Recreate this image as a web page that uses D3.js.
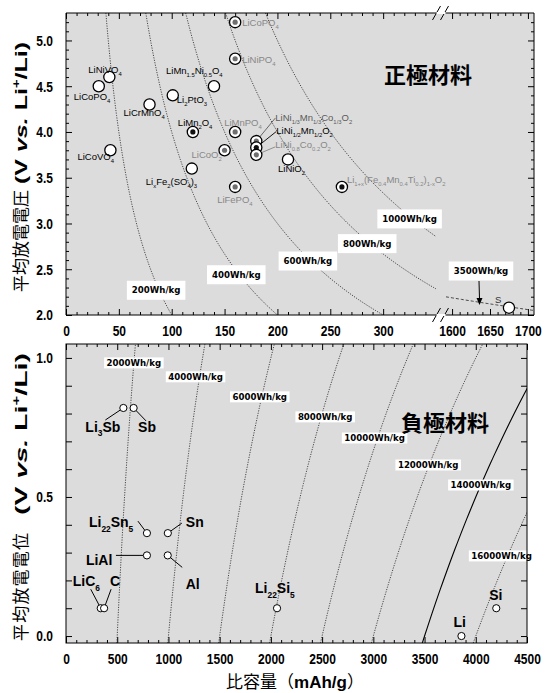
<!DOCTYPE html>
<html>
<head>
<meta charset="utf-8">
<script src="https://cdn.jsdelivr.net/npm/d3@7"></script>
<style>
  body { margin: 0; background: #fff; }
  svg { display: block; }
</style>
</head>
<body>
<svg id="chart" width="549" height="693"></svg>
<script>
// ---------- cathode materials (upper panel) ----------
const cathodeNames = [
  "LiCoPO_{4}", "LiNiPO_{4}", "LiNiVO_{4}", "LiCoPO_{4}", "LiMn_{1.5}Ni_{0.5}O_{4}",
  "Li_{2}PtO_{3}", "LiCrMnO_{4}", "LiMn_{2}O_{4}", "LiMnPO_{4}",
  "LiNi_{1/3}Mn_{1/3}Co_{1/3}O_{2}", "LiNi_{1/2}Mn_{1/2}O_{2}", "LiNi_{0.8}Co_{0.2}O_{2}",
  "LiCoVO_{4}", "LiCoO_{2}", "LiNiO_{2}", "Li_{x}Fe_{2}(SO_{4})_{3}", "LiFePO_{4}",
  "Li_{1+x}(Fe_{0.4}Mn_{0.4}Ti_{0.2})_{1-x}O_{2}"
];
const cathodeCapacity = [160, 160, 41, 31, 140, 101, 79, 120, 160, 180, 180, 180, 42, 150, 210, 119, 160, 261];
const cathodeVoltage  = [5.2, 4.8, 4.6, 4.5, 4.5, 4.4, 4.3, 4.0, 4.0, 3.9, 3.83, 3.75, 3.8, 3.8, 3.7, 3.6, 3.4, 3.4];
const cathodeKind     = ["gray", "gray", "open", "open", "open", "open", "open", "black", "gray",
                         "gray", "black", "gray", "open", "gray", "open", "open", "gray", "black"];
const sulfurNames    = ["S"];
const sulfurCapacity = [1675];
const sulfurVoltage  = [2.08];
const cathodeEnergies = [200, 400, 600, 800, 1000];
const sulfurEnergies  = [3500];

// ---------- anode materials (lower panel) ----------
const anodeNames    = ["Li_{3}Sb", "Sb", "Li_{22}Sn_{5}", "Sn", "LiAl", "Al", "LiC_{6}", "C", "Li_{22}Si_{5}", "Si", "Li"];
const anodeCapacity = [560, 660, 790, 994, 790, 993, 339, 372, 2060, 4200, 3860];
const anodeVoltage  = [0.82, 0.82, 0.37, 0.37, 0.29, 0.29, 0.1, 0.1, 0.1, 0.1, 0.0];
const anodeEnergies = [2000, 4000, 6000, 8000, 10000, 12000, 14000, 16000];
const counterVoltage = 4.0;   // cathode potential assumed for the anode energy lines

// ---------- tick values ----------
const topXTicksLeft  = [0, 50, 100, 150, 200, 250, 300];
const topXTicksRight = [1600, 1650, 1700];
const topYTicks      = [2.0, 2.5, 3.0, 3.5, 4.0, 4.5, 5.0];
const botXTicks      = [0, 500, 1000, 1500, 2000, 2500, 3000, 3500, 4000, 4500];
const botYTicks      = [0.0, 0.5, 1.0];

// ---------- layout ----------
const BG = "#dcdcdc", GRAY = "#878787";
const SANS = "'Liberation Sans',Arial,sans-serif";
const CJK = "'Noto Sans CJK JP','Noto Sans CJK SC',sans-serif";
const BOXFONT = "'DejaVu Sans',Verdana,sans-serif";

const svg = d3.select("#chart");

const xL = d3.scaleLinear([0, 350], [66, 436]);
const xR = d3.scaleLinear([1592, 1708], [446, 534]);
const yT = d3.scaleLinear([2.0, 5.3], [315, 13]);
const xB = d3.scaleLinear([0, 4500], [66, 527]);
const yB = d3.scaleLinear([-0.025, 1.05], [643, 344]);

// draws "Li_{2}O" style markup with sub/superscripts into a text element
function rich(textSel, markup, size, opts = {}) {
  const re = /([_^])\{([^}]*)\}|([^_^]+)/g;
  let m, cur = 0;
  while ((m = re.exec(markup))) {
    let t, k = 0;
    if (m[3] !== undefined) { t = m[3]; } else { t = m[2]; k = m[1] === "_" ? 1 : -1; }
    const shift = k === 1 ? size * 0.32 : k === -1 ? -size * 0.42 : 0;
    textSel.append("tspan").attr("dy", shift - cur)
      .attr("font-size", k ? size * (opts.subScale || 0.62) : size).text(t);
    cur = shift;
  }
  return textSel;
}

// ---------- clip paths ----------
const defs = svg.append("defs");
defs.append("clipPath").attr("id", "clipTL").append("rect")
  .attr("x", 66).attr("y", 13).attr("width", 370).attr("height", 302);
defs.append("clipPath").attr("id", "clipTR").append("rect")
  .attr("x", 446).attr("y", 13).attr("width", 88).attr("height", 302);
defs.append("clipPath").attr("id", "clipB").append("rect")
  .attr("x", 66).attr("y", 344).attr("width", 461).attr("height", 299);

// ---------- backgrounds ----------
svg.append("rect").attr("x", 66).attr("y", 13).attr("width", 468).attr("height", 302).attr("fill", BG);
svg.append("rect").attr("x", 66).attr("y", 344).attr("width", 461).attr("height", 299).attr("fill", BG);

// ---------- axes helpers ----------
function axisG(axis, tx, ty, labels) {
  const g = svg.append("g").attr("transform", `translate(${tx},${ty})`).call(axis);
  g.select(".domain").remove();
  g.selectAll("line").attr("stroke", "#000").attr("stroke-width", 1);
  if (!labels) { g.selectAll("text").remove(); return g; }
  // narrow bold tick numerals
  g.selectAll("text").each(function () {
    const t = d3.select(this);
    const x0 = +(t.attr("x") || 0);
    t.attr("x", 0).attr("transform", `translate(${x0},0) scale(0.8,1)`);
  }).attr("font-family", SANS).attr("font-size", 15).attr("font-weight", "bold").attr("fill", "#000");
  return g;
}
const f1 = d3.format(".1f"), fd = d3.format("d");
const minorTop = d3.range(10, 350, 10).filter(v => v % 50);
const minorTopR = d3.range(1600, 1708, 10).filter(v => v % 50);
const minorTopY = d3.range(2.1, 5.3, 0.1).filter(v => Math.round(v * 10) % 5);
const minorBotX = d3.range(100, 4500, 100).filter(v => v % 500);

// upper panel ticks
axisG(d3.axisBottom(xL).tickValues(topXTicksLeft).tickSize(-6).tickPadding(10).tickFormat(fd), 0, 315, true);
axisG(d3.axisBottom(xL).tickValues(minorTop).tickSize(-3), 0, 315, false);
axisG(d3.axisBottom(xR).tickValues(topXTicksRight).tickSize(-6).tickPadding(10).tickFormat(fd), 0, 315, true);
axisG(d3.axisBottom(xR).tickValues(minorTopR).tickSize(-3), 0, 315, false);
axisG(d3.axisTop(xL).tickValues(topXTicksLeft).tickSize(-6), 0, 13, false);
axisG(d3.axisTop(xL).tickValues(minorTop).tickSize(-3), 0, 13, false);
axisG(d3.axisTop(xR).tickValues(topXTicksRight).tickSize(-6), 0, 13, false);
axisG(d3.axisTop(xR).tickValues(minorTopR).tickSize(-3), 0, 13, false);
axisG(d3.axisLeft(yT).tickValues(topYTicks).tickSize(-6).tickPadding(13).tickFormat(f1), 66, 0, true);
axisG(d3.axisLeft(yT).tickValues(minorTopY).tickSize(-3), 66, 0, false);
axisG(d3.axisRight(yT).tickValues(topYTicks).tickSize(-6), 534, 0, false);
axisG(d3.axisRight(yT).tickValues(minorTopY).tickSize(-3), 534, 0, false);

// lower panel ticks
axisG(d3.axisBottom(xB).tickValues(botXTicks).tickSize(-6).tickPadding(10).tickFormat(fd), 0, 643, true);
axisG(d3.axisBottom(xB).tickValues(minorBotX).tickSize(-3), 0, 643, false);
axisG(d3.axisTop(xB).tickValues(botXTicks).tickSize(-6), 0, 344, false);
axisG(d3.axisTop(xB).tickValues(minorBotX).tickSize(-3), 0, 344, false);
axisG(d3.axisLeft(yB).tickValues(d3.range(0, 1.01, 0.1)).tickSize(-6).tickPadding(13)
  .tickFormat(v => botYTicks.some(t => Math.abs(t - v) < 1e-6) ? f1(v) : ""), 66, 0, true);
axisG(d3.axisRight(yB).tickValues(d3.range(0, 1.01, 0.1)).tickSize(-6), 527, 0, false);

// ---------- energy curves ----------
const lineT = d3.line().x(d => d[2] ? xR(d[0]) : xL(d[0])).y(d => yT(d[1]));
const curveG = svg.append("g").attr("fill", "none").attr("stroke", "#222").attr("stroke-width", 0.8);
cathodeEnergies.forEach(E => {
  const c0 = E / 5.3, c1 = Math.min(350, E / 2.0);
  const pts = d3.range(0, 81).map(i => { const c = c0 + (c1 - c0) * i / 80; return [c, E / c, false]; });
  curveG.append("path").attr("clip-path", "url(#clipTL)").attr("d", lineT(pts))
    .attr("stroke-dasharray", "1.2,1.3");
});
sulfurEnergies.forEach(E => {
  const pts = d3.range(0, 41).map(i => { const c = 1592 + 116 * i / 40; return [c, E / c, true]; });
  curveG.append("path").attr("clip-path", "url(#clipTR)").attr("d", lineT(pts))
    .attr("stroke-dasharray", "3,2");
});
const lineB = d3.line().x(d => xB(d[0])).y(d => yB(d[1]));
anodeEnergies.forEach(E => {
  const pts = d3.range(0, 61).map(i => { const v = -0.025 + 1.075 * i / 60; return [E / (counterVoltage - v), v]; });
  const p = curveG.append("path").attr("clip-path", "url(#clipB)").attr("d", lineB(pts));
  if (E === 14000) p.attr("stroke", "#000").attr("stroke-width", 1.1);
  else p.attr("stroke-dasharray", "1.2,1.3");
});

// ---------- energy labels on white boxes ----------
function energyLabel(cx, cy, text, padX, h) {
  const g = svg.append("g");
  const t = g.append("text").attr("x", cx).attr("y", cy).attr("text-anchor", "middle")
    .attr("dominant-baseline", "central").attr("font-family", BOXFONT).attr("font-weight", "bold")
    .attr("font-size", 8.6).text(text);
  const bb = t.node().getBBox();
  g.insert("rect", "text").attr("x", bb.x - padX).attr("y", cy - h / 2)
    .attr("width", bb.width + 2 * padX).attr("height", h).attr("fill", "#fff");
}
const cathodeLabelV = [2.27, 2.44, 2.59, 2.78, 3.05];
cathodeEnergies.forEach((E, i) => {
  const v = cathodeLabelV[i];
  energyLabel(xL(E / v) - 3, yT(v), E + "Wh/kg", 5, 19);
});
energyLabel(481, 271, sulfurEnergies[0] + "Wh/kg", 5, 19);
svg.append("line").attr("x1", 479).attr("y1", 281).attr("x2", 479.5).attr("y2", 299)
  .attr("stroke", "#000").attr("stroke-width", 1);
svg.append("path").attr("d", "M476.5,298 L482.5,298 L479.5,305 Z").attr("fill", "#000");

const anodeLabelV = [0.982, 0.932, 0.86, 0.788, 0.712, 0.615, 0.543, 0.288];
const anodeLabelDx = [0, -4, -2, 4, -3, -1, 0, -6];
anodeEnergies.forEach((E, i) => {
  const v = anodeLabelV[i];
  energyLabel(xB(E / (counterVoltage - v)) + anodeLabelDx[i], yB(v), E + "Wh/kg", 2.5, 11);
});

// ---------- frames and axis-break marks ----------
const borderG = svg.append("g").attr("stroke", "#000").attr("stroke-width", 1).attr("fill", "none");
borderG.append("line").attr("x1", 66).attr("y1", 13).attr("x2", 66).attr("y2", 315);
borderG.append("line").attr("x1", 534).attr("y1", 13).attr("x2", 534).attr("y2", 315);
[13, 315].forEach(y => {
  borderG.append("line").attr("x1", 66).attr("y1", y).attr("x2", 437).attr("y2", y);
  borderG.append("line").attr("x1", 445).attr("y1", y).attr("x2", 534).attr("y2", y);
  svg.append("rect").attr("x", 436.5).attr("y", y - 1).attr("width", 9).attr("height", 2).attr("fill", "#fff");
  borderG.append("line").attr("x1", 432.5).attr("y1", y + 7).attr("x2", 440.5).attr("y2", y - 7);
  borderG.append("line").attr("x1", 440.5).attr("y1", y + 7).attr("x2", 448.5).attr("y2", y - 7);
});
svg.append("rect").attr("x", 66).attr("y", 344).attr("width", 461).attr("height", 299)
  .attr("fill", "none").attr("stroke", "#000").attr("stroke-width", 1);

// ---------- cathode points ----------
const cathodeLayout = [
  [7, 4], [7, 4], [-21, -4], [-25, 14], [-48, -12], [4, 8], [-26, 11], [-15, -6], [-11, -6],
  [19, -20], [20, -14], [19, -7], [-33, 10], [-33, 8], [-10, 13], [-46, 16], [-18, 16], [5, -4]
];
const cathodeLabelTone = ["gray", "gray", "k", "k", "k", "k", "k", "k", "gray",
                          "dark", "k", "gray", "k", "gray", "k", "k", "gray", "gray"];
const cathodeLeaders = { 9: [19, -23], 10: [20, -16], 11: [19, -8] };
const toneColor = { gray: GRAY, k: "#000", dark: "#5a5a5a" };

const ptG = svg.append("g");
cathodeNames.forEach((name, i) => {
  const px = xL(cathodeCapacity[i]), py = yT(cathodeVoltage[i]);
  if (cathodeLeaders[i]) {
    const [lx, ly] = cathodeLeaders[i];
    const d = Math.hypot(lx, ly);
    ptG.append("line").attr("x1", px + lx / d * 5).attr("y1", py + ly / d * 5)
      .attr("x2", px + lx).attr("y2", py + ly).attr("stroke", toneColor[cathodeLabelTone[i]]).attr("stroke-width", 0.9);
  }
});
cathodeNames.forEach((name, i) => {
  const px = xL(cathodeCapacity[i]), py = yT(cathodeVoltage[i]);
  const kind = cathodeKind[i];
  ptG.append("circle").attr("cx", px).attr("cy", py).attr("r", 5.6)
    .attr("fill", "#fff").attr("stroke", "#000").attr("stroke-width", 1.3);
  if (kind !== "open") {
    ptG.append("circle").attr("cx", px).attr("cy", py).attr("r", 2.6)
      .attr("fill", kind === "gray" ? "#6e6e6e" : "#111");
  }
  const [dx, dy] = cathodeLayout[i];
  rich(ptG.append("text").attr("x", px + dx).attr("y", py + dy).attr("font-family", SANS)
    .attr("fill", toneColor[cathodeLabelTone[i]]), name, 9.5);
});
sulfurNames.forEach((name, i) => {
  const px = xR(sulfurCapacity[i]), py = yT(sulfurVoltage[i]);
  ptG.append("circle").attr("cx", px).attr("cy", py).attr("r", 5.6)
    .attr("fill", "#fff").attr("stroke", "#000").attr("stroke-width", 1.3);
  rich(ptG.append("text").attr("x", px - 14).attr("y", py - 5).attr("font-family", SANS)
    .attr("fill", "#333"), name, 9.5);
});

// ---------- anode points ----------
const anodeLayout = [
  [-38, 24], [4.5, 24], [-58, -6], [18, -6], [-61, 10], [18, 34], [-28, -22], [6, -22], [-22, -15], [-7, -8], [-8, -9]
];
const anodeLeaders = { 0: [-18, 12], 1: [12.5, 13], 2: [-9, -12], 3: [14, -10], 4: [-31, 0], 5: [14.5, 12], 6: [-10, -19], 7: [7, -19] };
anodeNames.forEach((name, i) => {
  const px = xB(anodeCapacity[i]), py = yB(anodeVoltage[i]);
  if (anodeLeaders[i]) {
    const [lx, ly] = anodeLeaders[i];
    const d = Math.hypot(lx, ly);
    ptG.append("line").attr("x1", px + lx / d * 3.5).attr("y1", py + ly / d * 3.5)
      .attr("x2", px + lx).attr("y2", py + ly).attr("stroke", "#000").attr("stroke-width", 1);
  }
});
anodeNames.forEach((name, i) => {
  const px = xB(anodeCapacity[i]), py = yB(anodeVoltage[i]);
  ptG.append("circle").attr("cx", px).attr("cy", py).attr("r", 3.6)
    .attr("fill", "#fff").attr("stroke", "#000").attr("stroke-width", 1);
  const [dx, dy] = anodeLayout[i];
  rich(ptG.append("text").attr("x", px + dx).attr("y", py + dy).attr("font-family", SANS)
    .attr("font-weight", "bold").attr("fill", "#000"), name, 14, { subScale: 0.6 });
});

// ---------- panel titles ----------
svg.append("text").attr("x", 428).attr("y", 83).attr("text-anchor", "middle")
  .attr("font-family", CJK).attr("font-weight", "bold").attr("font-size", 22).text("正極材料");
svg.append("text").attr("x", 445).attr("y", 431).attr("text-anchor", "middle")
  .attr("font-family", CJK).attr("font-weight", "bold").attr("font-size", 22).text("負極材料");

// ---------- axis titles (vertical) ----------
// CJK part runs from yBottom upward; the latin part is stretched along the text direction
function yTitle(cx, yBottom, cjk, cjkLen, latStart, latLen) {
  const g = svg.append("g").attr("transform", `translate(${cx},${yBottom}) rotate(-90)`);
  g.append("text").attr("x", 0).attr("y", 0).attr("font-family", CJK).attr("font-size", 17)
    .attr("textLength", cjkLen).attr("lengthAdjust", "spacing").text(cjk);
  const lat = g.append("text").attr("font-family", SANS).attr("font-weight", "bold").attr("font-size", 17)
    .attr("x", latStart).attr("y", 0).attr("textLength", latLen).attr("lengthAdjust", "spacingAndGlyphs");
  lat.append("tspan").text("(V ");
  lat.append("tspan").attr("font-style", "italic").text("vs.");
  lat.append("tspan").text(" Li");
  lat.append("tspan").attr("dy", -7).attr("font-size", 10).text("+");
  lat.append("tspan").attr("dy", 7).text("/Li)");
}
yTitle(27, 292, "平均放電電圧", 102, 108, 142);
yTitle(27, 641, "平均放電電位", 108, 126, 162);

const xt = svg.append("text").attr("x", 295).attr("y", 688).attr("text-anchor", "middle").attr("font-size", 17);
xt.append("tspan").attr("font-family", CJK).text("比容量（");
xt.append("tspan").attr("font-family", SANS).attr("font-weight", "bold").text("mAh/g");
xt.append("tspan").attr("font-family", CJK).text("）");
</script>
</body>
</html>
